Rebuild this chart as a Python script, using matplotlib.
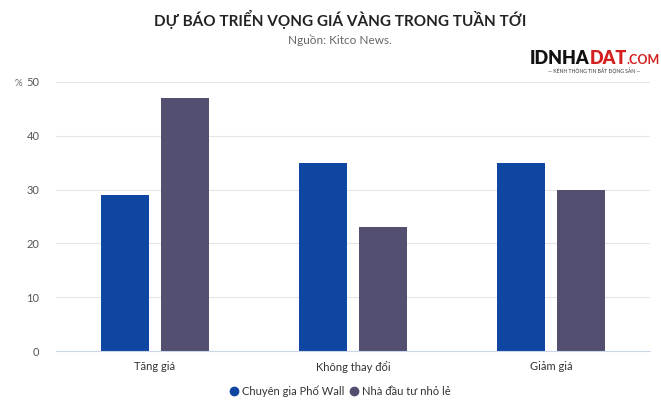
import matplotlib.pyplot as plt
import numpy as np
from matplotlib.lines import Line2D

categories = ['Tăng giá', 'Không thay đổi', 'Giảm giá']
series_names = ['Chuyên gia Phố Wall', 'Nhà đầu tư nhỏ lẻ']
wall_street = [29, 35, 35]
main_street = [47, 23, 30]
colors = ['#0e46a1', '#534f70']

plt.rcParams['font.family'] = ['Lato', 'DejaVu Sans']

fig = plt.figure(figsize=(6.61, 4.13), dpi=100)
W, H = 661, 413
ax = fig.add_axes([56 / W, 1 - 351 / H, (650 - 56) / W, (351 - 82) / H])

x = np.arange(len(categories))
bw = 0.242
ax.bar(x - 0.151, wall_street, bw, color=colors[0], label=series_names[0])
ax.bar(x + 0.151, main_street, bw, color=colors[1], label=series_names[1])

ax.set_xlim(-0.5, 2.5)
ax.set_ylim(0, 50)
ax.set_yticks(range(0, 51, 10))
ax.set_xticks(x)
ax.set_xticklabels(categories)
ax.grid(axis='y', color='#e6e6e6', linewidth=0.8)
ax.set_axisbelow(True)
for s in ['top', 'right', 'left']:
    ax.spines[s].set_visible(False)
ax.spines['bottom'].set_color('#ccd6eb')
ax.tick_params(axis='both', length=0, labelsize=8, colors='#333333')
ax.tick_params(axis='y', pad=12, colors='#555555')
ax.tick_params(axis='x', pad=7)

fig.text(18 / W, 1 - 83 / H, '%', fontsize=7, color='#666666', ha='center', va='center')

fig.text(340 / W, 1 - 19 / H, 'DỰ BÁO TRIỂN VỌNG GIÁ VÀNG TRONG TUẦN TỚI',
         fontsize=11, fontweight='bold', color='#222222', ha='center', va='center')
fig.text(340 / W, 1 - 40 / H, 'Nguồn: Kitco News.', fontsize=8.5, color='#666666',
         ha='center', va='center')

# logo as text, pieces placed next to each other
r = fig.canvas.get_renderer()
t1 = fig.text(530 / W, 1 - 58 / H, 'IDNHA', fontsize=13, fontweight='heavy',
              color='#111111', ha='left', va='center')
x1 = t1.get_window_extent(r).x1
t2 = fig.text(x1 / W, 1 - 58 / H, 'DAT', fontsize=13, fontweight='heavy',
              color='#d42020', ha='left', va='center')
x2 = t2.get_window_extent(r).x1
fig.text(x2 / W, 1 - 60 / H, '.COM', fontsize=9, fontweight='bold', color='#d42020',
         ha='left', va='center')
fig.text(594 / W, 1 - 71 / H, '— KÊNH THÔNG TIN BẤT ĐỘNG SẢN —', fontsize=3.6,
         color='#333333', ha='center', va='center')

handles = [Line2D([], [], marker='o', linestyle='', color=c, markersize=6) for c in colors]
fig.legend(handles, series_names, loc='center', bbox_to_anchor=(340 / W, 1 - 391 / H),
           ncol=2, frameon=False, fontsize=8, handlelength=0.8, handletextpad=0.3,
           columnspacing=0.5, labelcolor='#333333')

fig.savefig('out.png', dpi=100)
